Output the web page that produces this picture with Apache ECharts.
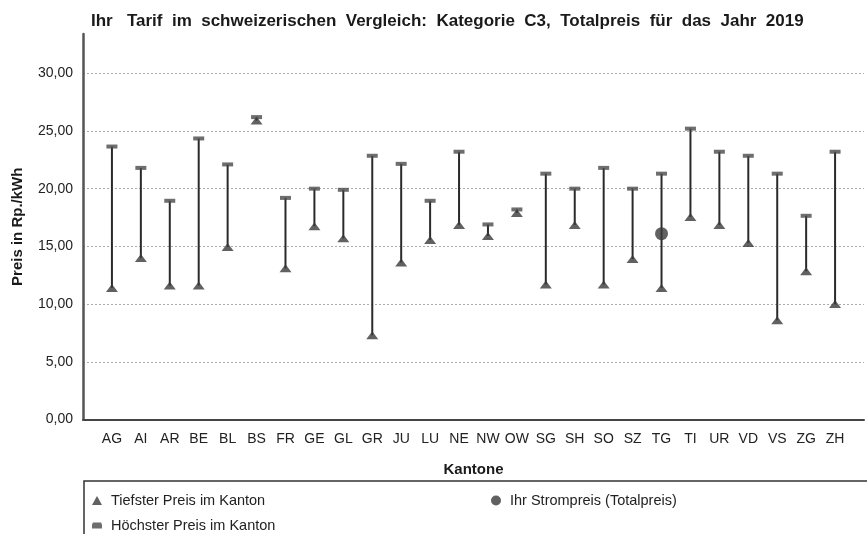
<!DOCTYPE html>
<html>
<head>
<meta charset="utf-8">
<script src="https://cdn.jsdelivr.net/npm/echarts@6/dist/echarts.min.js"></script>
<style>html,body{margin:0;padding:0;background:#fff;}#c{width:867px;height:534px;}</style>
</head>
<body>
<div id="c"></div>
<script>
const cantons = ['AG','AI','AR','BE','BL','BS','FR','GE','GL','GR','JU','LU','NE','NW','OW','SG','SH','SO','SZ','TG','TI','UR','VD','VS','ZG','ZH'];
const minPrice = [11.4,14.0,11.6,11.6,14.95,25.9,13.1,16.75,15.7,7.3,13.6,15.55,16.85,15.9,17.9,11.7,16.85,11.7,13.9,11.4,17.55,16.85,15.3,8.6,12.85,10.0];
const maxPrice = [23.65,21.8,18.95,24.35,22.1,26.2,19.2,20.0,19.9,22.85,22.15,18.95,23.2,16.9,18.2,21.3,20.0,21.8,20.0,21.3,25.2,23.2,22.85,21.3,17.65,23.2];
const ownCanton = 'TG';
const ownPrice = 16.1;
const yTicks = [0,5,10,15,20,25,30];

const cats = [''].concat(cantons, ['']);
const font = 'Liberation Sans, Arial, sans-serif';
const legendText = {fontFamily: font, fontSize: 14.5, color: '#222', padding: [0, 0, 0, 4]};

const chart = echarts.init(document.getElementById('c'), null, {renderer: 'canvas'});
chart.setOption({
  animation: false,
  backgroundColor: '#ffffff',
  title: {
    text: 'Ihr   Tarif  im  schweizerischen  Vergleich:  Kategorie  C3,  Totalpreis  für  das  Jahr  2019',
    left: 86, top: 8,
    textStyle: {fontFamily: font, fontSize: 17, fontWeight: 'bold', color: '#1a1a1a'}
  },
  grid: {left: 83, right: 0, top: 34, bottom: 114.5, containLabel: false},
  xAxis: {
    type: 'category', data: cats, boundaryGap: false,
    name: 'Kantone', nameLocation: 'middle', nameGap: 43,
    nameTextStyle: {fontFamily: font, fontSize: 15, fontWeight: 'bold', color: '#1a1a1a'},
    axisLine: {show: true, lineStyle: {color: '#444', width: 2}},
    axisTick: {show: false},
    axisLabel: {interval: 0, fontFamily: font, fontSize: 14, color: '#222', margin: 13},
    splitLine: {show: false}
  },
  yAxis: {
    type: 'value', min: 0, max: 33.4, interval: 5,
    name: 'Preis in Rp./kWh', nameLocation: 'middle', nameGap: 58,
    nameTextStyle: {fontFamily: font, fontSize: 15, fontWeight: 'bold', color: '#1a1a1a'},
    axisLine: {show: true, lineStyle: {color: '#555', width: 2.5}},
    axisTick: {show: false},
    axisLabel: {
      fontFamily: font, fontSize: 14, color: '#222', margin: 10, showMaxLabel: false,
      formatter: v => yTicks.indexOf(v) >= 0 ? v.toFixed(2).replace('.', ',') : ''
    },
    splitLine: {show: true, showMaxLine: false, lineStyle: {color: '#aaa', type: [2, 2], width: 1}}
  },
  legend: [
    {
      left: 87, top: 488, itemWidth: 10, itemHeight: 9, textStyle: legendText,
      data: [{name: 'Tiefster Preis im Kanton', icon: 'triangle'}]
    },
    {
      left: 87, top: 513, itemWidth: 10, itemHeight: 7, textStyle: legendText,
      data: [{name: 'Höchster Preis im Kanton', icon: 'path://M1,0 L9,0 L10,2 L10,6 L0,6 L0,2 Z'}]
    },
    {
      left: 486, top: 488, itemWidth: 10, itemHeight: 13, textStyle: legendText,
      data: [{name: 'Ihr Strompreis (Totalpreis)', icon: 'circle'}]
    }
  ],
  graphic: [{
    type: 'rect', shape: {x: 84, y: 481, width: 800, height: 70},
    style: {fill: 'none', stroke: '#333', lineWidth: 1.5}, silent: true
  }],
  series: [
    {
      type: 'custom', name: 'range', silent: true,
      data: cantons.map((c, i) => [c, minPrice[i], maxPrice[i]]),
      renderItem: function (params, api) {
        const lo = api.coord([api.value(0), api.value(1)]);
        const hi = api.coord([api.value(0), api.value(2)]);
        return {type: 'line', shape: {x1: lo[0], y1: lo[1], x2: hi[0], y2: hi[1]},
          style: {stroke: '#2a2a2a', lineWidth: 2}};
      },
      encode: {x: 0, y: [1, 2]}
    },
    {
      type: 'scatter', name: 'Tiefster Preis im Kanton', symbol: 'triangle', symbolSize: [12, 8],
      itemStyle: {color: '#3a3a3a'},
      data: cantons.map((c, i) => [c, minPrice[i]])
    },
    {
      type: 'scatter', name: 'Höchster Preis im Kanton', symbol: 'rect', symbolSize: [11, 4],
      itemStyle: {color: '#4a4a4a'},
      data: cantons.map((c, i) => [c, maxPrice[i]])
    },
    {
      type: 'scatter', name: 'Ihr Strompreis (Totalpreis)', symbol: 'circle', symbolSize: 13,
      itemStyle: {color: '#3a3a3a'},
      data: [[ownCanton, ownPrice]]
    }
  ]
});
</script>
</body>
</html>
